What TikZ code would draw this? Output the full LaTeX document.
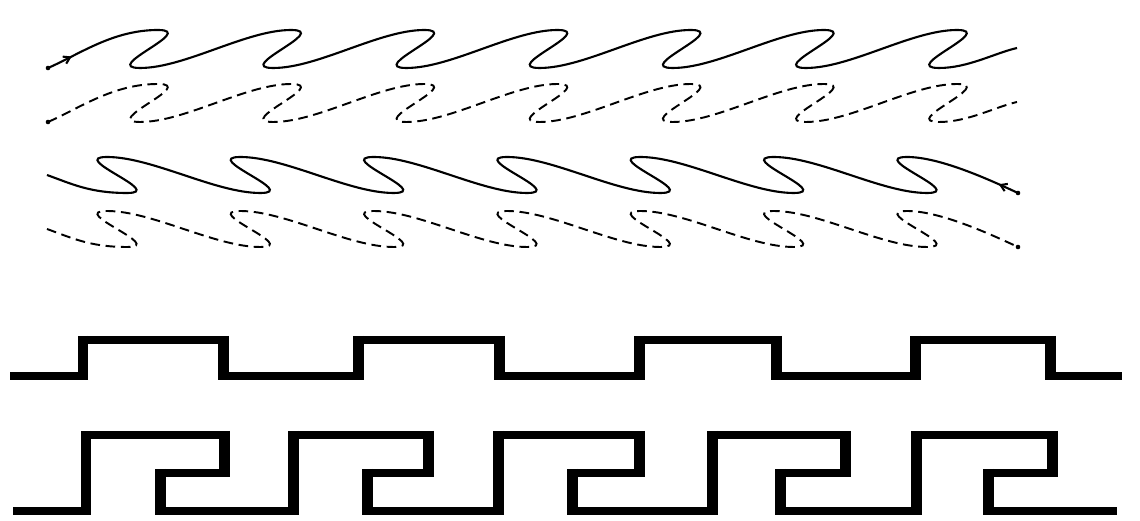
\documentclass[tikz,border=0pt]{standalone}
\usetikzlibrary{arrows.meta,decorations.markings}
\tikzset{
  barb/.tip={Straight Barb[length=3.5pt,width=4.5pt]},
  wave/.style={line width=1.2pt},
  dashwave/.style={line width=1.1pt, dash pattern=on 5.5pt off 3.2pt},
  rightwave/.style={wave, postaction={decorate},
    decoration={markings, mark=at position 15pt with {\arrow{barb}}}},
  leftwave/.style={wave, postaction={decorate},
    decoration={markings, mark=at position -12pt with {\arrowreversed{barb}}}},
  fret/.style={line width=0.15cm, line join=miter},
  fretside/.style={line width=0.22cm}
}
\begin{document}
\begin{tikzpicture}[x=0.02cm, y=-0.02cm]
    % Canvas, in pixel units (y runs downwards)
    \fill[white] (0,0) rectangle (1140,519);

    % Upper pair: waves breaking to the right (solid, then dashed copy below)
    % crest n at x = 158 + 133.17n, trough 18 to the left of its crest
    \foreach \dy/\sty in {0/rightwave, 54/dashwave} {
      \draw[\sty] (48,68+\dy) .. controls (80,54+\dy) and (113,30+\dy) .. (158,30+\dy)
        \foreach \n in {0,...,5} {
          .. controls ({158+133.17*\n+40},30+\dy) and ({140+133.17*\n-40},68+\dy) .. ({140+133.17*\n},68+\dy)
          .. controls ({140+133.17*\n+45},68+\dy) and ({158+133.17*(\n+1)-45},30+\dy) .. ({158+133.17*(\n+1)},30+\dy)
        }
        .. controls (997,30+\dy) and (899,68+\dy) .. (939,68+\dy)
        .. controls (968,68+\dy) and (995,53+\dy) .. (1017,48+\dy);
      \fill (48,68+\dy) circle (1.3pt); % start dot
    }

    % Lower pair: waves breaking to the left
    % trough n at x = 127 + 133.33n, crest 20 to the left of its trough
    \foreach \dy/\sty in {0/leftwave, 54/dashwave} {
      \draw[\sty] (47,175+\dy) .. controls (72,184+\dy) and (90,193+\dy) .. (127,193+\dy)
        \foreach \n in {0,...,5} {
          .. controls ({127+133.33*\n+40},193+\dy) and ({107+133.33*\n-40},157+\dy) .. ({107+133.33*\n},157+\dy)
          .. controls ({107+133.33*\n+45},157+\dy) and ({127+133.33*(\n+1)-45},193+\dy) .. ({127+133.33*(\n+1)},193+\dy)
        }
        .. controls (967,193+\dy) and (867,157+\dy) .. (907,157+\dy)
        .. controls (940,157+\dy) and (990,180+\dy) .. (1018,193+\dy);
      \fill (1018,193+\dy) circle (1.3pt); % end dot
    }

    % Square meander
    \draw[fret] (10,376)
      \foreach \u/\d in {83/223, 358/499, 639/776, 915/1050} {
        -- (\u,376) -- (\u,340) -- (\d,340) -- (\d,376) }
      -- (1122,376);
    \foreach \x in {83,223,358,499,639,776,915,1050}
      \draw[fretside] (\x,336) -- (\x,380); % heavier uprights

    % Key meander
    \draw[fret] (13,511)
      \foreach \u/\r/\i in {86/224/160, 293/428/367, 498/639/572, 712/845/780, 916/1052/988} {
        -- (\u,511) -- (\u,435) -- (\r,435) -- (\r,473) -- (\i,473) -- (\i,511) }
      -- (1117,511);
    \foreach \u/\r/\i in {86/224/160, 293/428/367, 498/639/572, 712/845/780, 916/1052/988}
      \draw[fretside] (\u,431) -- (\u,515) (\r,431) -- (\r,477) (\i,469) -- (\i,515);
\end{tikzpicture}
\end{document}
